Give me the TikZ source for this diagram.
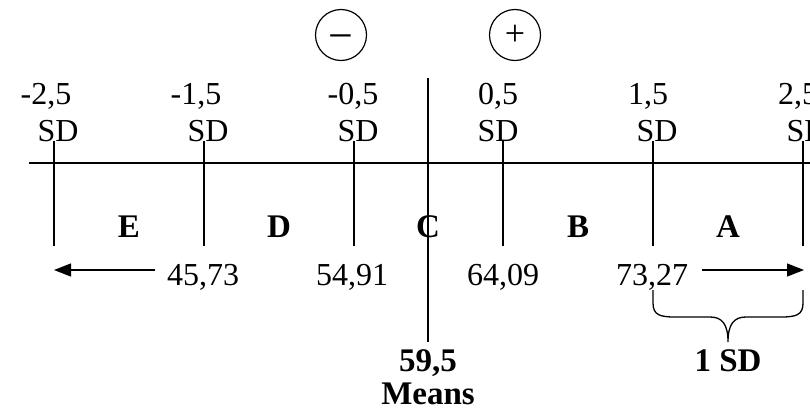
\documentclass[tikz,border=0pt]{standalone}
\usepackage{fontspec}
\setmainfont{Liberation Serif}
\usetikzlibrary{arrows.meta}
\begin{document}
\begin{tikzpicture}[x=1pt,y=-1pt,
  lbl/.style={font=\fontsize{32}{38}\selectfont, inner sep=0pt, anchor=base},
  blbl/.style={lbl, font=\fontsize{33}{38}\selectfont\bfseries},
  ln/.style={line width=1.3pt},
  arr/.style={ln, -{Triangle[length=17pt,width=13pt]}},
  signc/.style={circle, draw, line width=1.2pt, minimum size=51pt, inner sep=0pt, text depth=0pt}]
\useasboundingbox (0,0) rectangle (810,415);
\clip (0,0) rectangle (810,415);
% main axis
\coordinate (hl) at (29,163);
\coordinate (hr) at (815,163);
\draw[ln] (hl) -- (hr);
% ticks
\foreach \n/\x in {1/54,2/204,3/354,4/503,5/653,6/803}{
  \coordinate (tt\n) at (\x,141);
  \coordinate (tb\n) at (\x,246);
  \draw[ln] (tt\n) -- (tb\n);
}
% central mean line
\coordinate (mt) at (428,78);
\coordinate (mb) at (428,342);
\draw[ln] (mt) -- (mb);
% signs
\node[signc, text height=31pt, font=\fontsize{44}{44}\selectfont] (minus) at (341,35) {−};
\node[signc, text height=21pt, font=\fontsize{36}{36}\selectfont] (plus) at (515,35) {+};
% SD values
\node[lbl] (v1) at (46,104) {-2,5};
\node[lbl] (s1) at (58,141) {SD};
\node[lbl] (v2) at (196,104) {-1,5};
\node[lbl] (s2) at (208,141) {SD};
\node[lbl] (v3) at (353,104) {-0,5};
\node[lbl] (s3) at (358,141) {SD};
\node[lbl] (v4) at (498,104) {0,5};
\node[lbl] (s4) at (498,141) {SD};
\node[lbl] (v5) at (648,104) {1,5};
\node[lbl] (s5) at (657,141) {SD};
\node[lbl] (v6) at (798,104) {2,5};
\node[lbl] (s6) at (807,141) {SD};
% grade letters
\node[blbl] (gE) at (129,237) {E};
\node[blbl] (gD) at (279,237) {D};
\node[blbl] (gC) at (428,237) {C};
\node[blbl] (gB) at (578,237) {B};
\node[blbl] (gA) at (728,237) {A};
% score limits
\node[lbl] (n1) at (203,285) {45,73};
\node[lbl] (n2) at (352,285) {54,91};
\node[lbl] (n3) at (503,285) {64,09};
\node[lbl] (n4) at (652,285) {73,27};
% arrows
\coordinate (al1) at (155,270);
\coordinate (al2) at (54,270);
\coordinate (ar1) at (702,270);
\coordinate (ar2) at (804,270);
\draw[arr] (al1) -- (al2);
\draw[arr] (ar1) -- (ar2);
% brace
\coordinate (bl) at (653,290);
\coordinate (br) at (803,290);
\coordinate (btip) at (728,342);
\draw[line width=1.3pt] (bl) -- (653,303) .. controls (653,315) and (660,317) .. (675,317)
  -- (710,317) .. controls (722,317) and (728,324) .. (btip)
  .. controls (728,324) and (734,317) .. (746,317)
  -- (781,317) .. controls (796,317) and (803,315) .. (803,303) -- (br);
% bottom labels
\node[blbl] (mean) at (428,371) {59,5};
\node[blbl] (means) at (428,404) {Means};
\node[blbl] (onesd) at (728,371) {1 SD};
\end{tikzpicture}
\end{document}
